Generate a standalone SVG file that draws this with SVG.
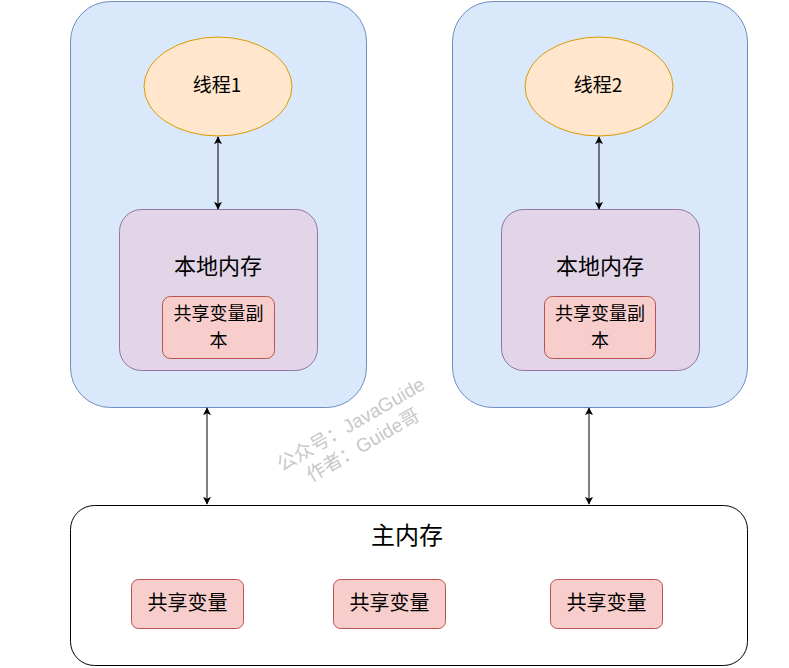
<svg xmlns="http://www.w3.org/2000/svg" width="789" height="668" viewBox="0 0 789 668">
<defs>
<marker id="arr" viewBox="0 0 10 10" refX="9" refY="5" markerWidth="8" markerHeight="8" markerUnits="userSpaceOnUse" orient="auto-start-reverse">
<path d="M0,0 L10,5 L0,10 L2.5,5 Z" fill="#000"/>
</marker>
</defs>
<style>
text{font-family:"Noto Sans CJK SC","Liberation Sans",sans-serif;fill:#000;text-anchor:middle}
.outer{fill:#dae8fc;stroke:#6c8ebf;stroke-width:1}
.thread{fill:#ffe6cc;stroke:#d79b00;stroke-width:1}
.local{fill:#e1d5e7;stroke:#9673a6;stroke-width:1}
.var{fill:#f8cecc;stroke:#b85450;stroke-width:1}
.main{fill:#fff;stroke:#000;stroke-width:1}
.conn{stroke:#000;stroke-width:1;fill:none;marker-start:url(#arr);marker-end:url(#arr)}
.wm{font-family:"Liberation Sans","Noto Sans CJK SC",sans-serif;fill:#c8c8c8;font-size:19px}
</style>
<rect width="789" height="668" fill="#fff"/>
<g id="workspace1"><rect class="outer" x="70.5" y="1.5" width="296" height="406" rx="40"/></g>
<g id="workspace2"><rect class="outer" x="452.5" y="1.5" width="295" height="406" rx="40"/></g>
<g id="thread1"><ellipse class="thread" cx="218" cy="86.5" rx="74" ry="49.5"/><text x="217" y="91.5" font-size="19">线程1</text></g>
<g id="thread2"><ellipse class="thread" cx="599" cy="86.5" rx="74" ry="49.5"/><text x="598" y="91.5" font-size="19">线程2</text></g>
<g id="local1"><rect class="local" x="119.5" y="209.5" width="198" height="161" rx="22"/><text x="218" y="274" font-size="22">本地内存</text></g>
<g id="local2"><rect class="local" x="501.5" y="209.5" width="198" height="161" rx="22"/><text x="600" y="274" font-size="22">本地内存</text></g>
<g id="copy1"><rect class="var" x="162.5" y="296.5" width="112" height="62" rx="8"/><text x="218.5" y="319.5" font-size="18">共享变量副</text><text x="218.5" y="346.5" font-size="18">本</text></g>
<g id="copy2"><rect class="var" x="544.5" y="296.5" width="111" height="62" rx="8"/><text x="600" y="319.5" font-size="18">共享变量副</text><text x="600" y="346.5" font-size="18">本</text></g>
<g id="mainmem"><rect class="main" x="70.5" y="505.5" width="677" height="160" rx="24"/><text x="407" y="544" font-size="24">主内存</text></g>
<g id="var1"><rect class="var" x="131.5" y="579.5" width="112" height="49" rx="7"/><text x="187.5" y="610" font-size="20">共享变量</text></g>
<g id="var2"><rect class="var" x="333.5" y="579.5" width="112" height="49" rx="7"/><text x="389.5" y="610" font-size="20">共享变量</text></g>
<g id="var3"><rect class="var" x="550.5" y="579.5" width="112" height="49" rx="7"/><text x="606.5" y="610" font-size="20">共享变量</text></g>
<g id="connectors">
<line class="conn" x1="218" y1="137" x2="218" y2="209"/>
<line class="conn" x1="599" y1="137" x2="599" y2="209"/>
<line class="conn" x1="207" y1="408" x2="207" y2="504"/>
<line class="conn" x1="589" y1="408" x2="589" y2="504"/>
</g>
<g transform="rotate(-30 354 430)">
<text class="wm" x="354" y="430">公众号：JavaGuide</text>
<text class="wm" x="354" y="454">作者：Guide哥</text>
</g>
</svg>
